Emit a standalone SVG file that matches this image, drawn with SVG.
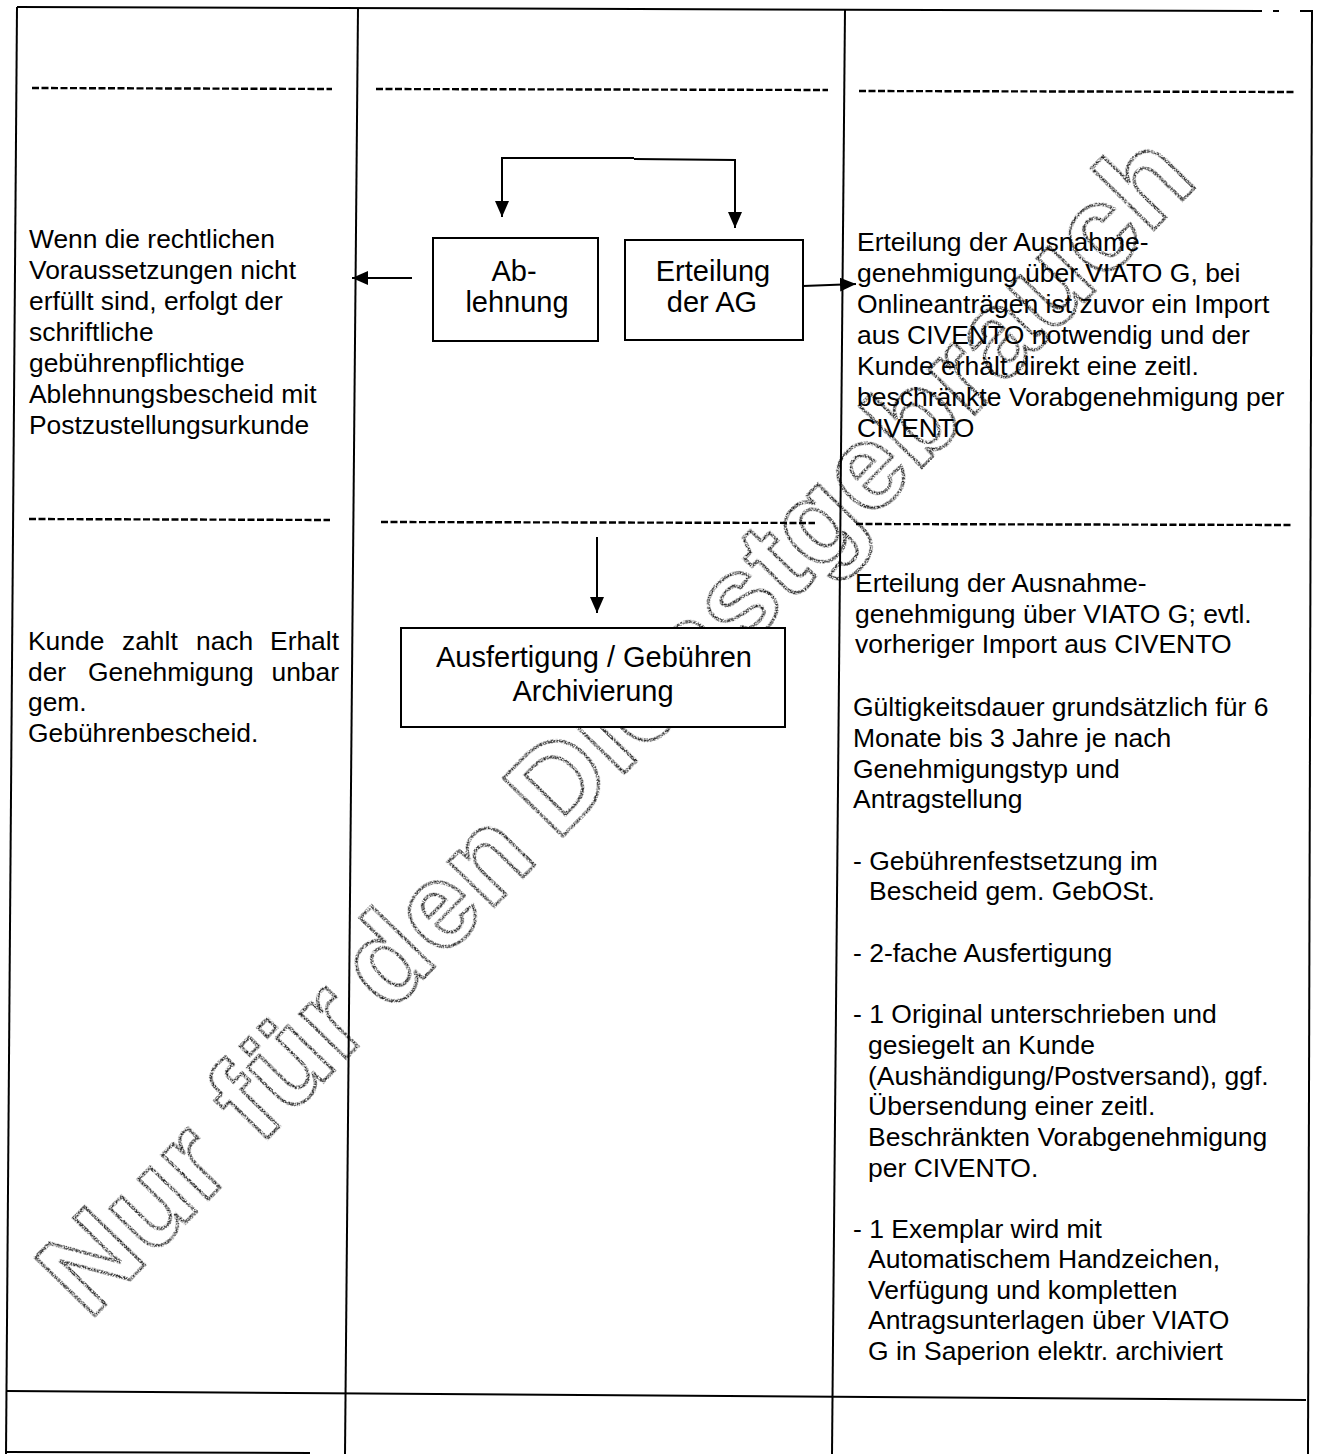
<svg xmlns="http://www.w3.org/2000/svg" width="1317" height="1454" viewBox="0 0 1317 1454">
<style>
.ln{stroke:#000;stroke-width:2;fill:none}
.dash{stroke:#000;stroke-width:2.4;stroke-dasharray:7 2.5;fill:none}
.box{fill:#fff;stroke:#000;stroke-width:2}
.con{stroke:#000;stroke-width:2;fill:none}
.t{font-family:"Liberation Sans",Arial,sans-serif;fill:#000}
.l{font-size:26.4px}
.r{font-size:26.5px}
.b{font-size:29px;text-anchor:middle}
.wm{font-family:"Liberation Sans",Arial,sans-serif;font-weight:bold;font-size:120px;letter-spacing:1px;fill:none;stroke:#222;stroke-width:3.2}
</style>
<defs>
<marker id="ah" markerUnits="userSpaceOnUse" markerWidth="18" markerHeight="16" refX="16" refY="7" orient="auto">
<path d="M0,0 L16,7 L0,14 Z" fill="#000"/>
</marker>
<filter id="speck" x="-5%" y="-20%" width="110%" height="140%">
<feTurbulence type="fractalNoise" baseFrequency="0.9" numOctaves="2" seed="7" result="noise"/>
<feColorMatrix in="noise" type="matrix" values="0 0 0 0 0 0 0 0 0 0 0 0 0 0 0 5 0 0 0 -1.9" result="mask"/>
<feComposite in="SourceGraphic" in2="mask" operator="in"/>
</filter>
</defs>
<rect width="1317" height="1454" fill="#fff"/>

<g id="watermark">
<text class="wm" x="0" y="0" dx="22 0 0 0 0 0 0 -12 0 0 0 -10" transform="translate(74,1337) rotate(-45.7)" filter="url(#speck)">Nur für den Dienstgebrauch</text>
</g>

<g id="table">
<path class="ln" d="M17,7 L1262,11"/>
<path class="ln" d="M1273,11 L1279,11"/>
<path class="ln" d="M1300,11 L1312,11"/>
<path class="ln" d="M17,7 L6,1454"/>
<path class="ln" d="M358,8 L345,1454"/>
<path class="ln" d="M845,9 L832,1454"/>
<path class="ln" d="M1312,10 L1308,1454"/>
<path class="ln" d="M7,1391 L1306,1400"/>
<path class="ln" d="M7,1452 L310,1453"/>
<path class="dash" d="M32,88 L332,89"/>
<path class="dash" d="M376,89 L828,90"/>
<path class="dash" d="M859,91 L1294,92"/>
<path class="dash" d="M29,519 L330,520"/>
<path class="dash" d="M381,522 L815,523"/>
<path class="dash" d="M856,524 L1292,525"/>
</g>

<g id="connectors">
<path class="con" d="M634,158 L502,158 L502,217" marker-end="url(#ah)"/>
<path class="con" d="M634,159 L735,160 L735,228" marker-end="url(#ah)"/>
<path class="con" d="M412,278 L352,278" marker-end="url(#ah)"/>
<path class="con" d="M803,286 L856,284" marker-end="url(#ah)"/>
<path class="con" d="M597,537 L597,613" marker-end="url(#ah)"/>
</g>

<g id="node-ablehnung">
<rect class="box" x="433" y="238" width="165" height="103"/>
<text class="t b" x="514" y="281">Ab-</text>
<text class="t b" x="517" y="312">lehnung</text>
</g>

<g id="node-erteilung">
<rect class="box" x="625" y="240" width="178" height="100"/>
<text class="t b" x="713" y="281">Erteilung</text>
<text class="t b" x="712" y="312">der AG</text>
</g>

<g id="node-ausfertigung">
<rect class="box" x="401" y="628" width="384" height="99"/>
<text class="t b" x="594" y="667">Ausfertigung / Gebühren</text>
<text class="t b" x="593" y="701">Archivierung</text>
</g>

<g id="text-ablehnung" class="t l">
<text x="29" y="248">Wenn die rechtlichen</text>
<text x="29" y="279">Voraussetzungen nicht</text>
<text x="29" y="310">erfüllt sind, erfolgt der</text>
<text x="29" y="341">schriftliche</text>
<text x="29" y="372">gebührenpflichtige</text>
<text x="29" y="403">Ablehnungsbescheid mit</text>
<text x="29" y="434">Postzustellungsurkunde</text>
</g>

<g id="text-erteilung" class="t r">
<text x="857" y="251">Erteilung der Ausnahme-</text>
<text x="857" y="282">genehmigung über VIATO G, bei</text>
<text x="857" y="313">Onlineanträgen ist zuvor ein Import</text>
<text x="857" y="344">aus CIVENTO notwendig und der</text>
<text x="857" y="375">Kunde erhält direkt eine zeitl.</text>
<text x="857" y="406">beschränkte Vorabgenehmigung per</text>
<text x="857" y="437">CIVENTO</text>
</g>

<g id="text-zahlung" class="t l">
<text y="650"><tspan x="28">Kunde</tspan><tspan x="122">zahlt</tspan><tspan x="196">nach</tspan><tspan x="339" text-anchor="end">Erhalt</tspan></text>
<text y="681"><tspan x="28">der</tspan><tspan x="88">Genehmigung</tspan><tspan x="339" text-anchor="end">unbar</tspan></text>
<text x="28" y="711">gem.</text>
<text x="28" y="742">Gebührenbescheid.</text>
</g>

<g id="text-ausfertigung" class="t r">
<text x="855" y="592">Erteilung der Ausnahme-</text>
<text x="855" y="623">genehmigung über VIATO G; evtl.</text>
<text x="855" y="653">vorheriger Import aus CIVENTO</text>
<text x="853" y="716">Gültigkeitsdauer grundsätzlich für 6</text>
<text x="853" y="747">Monate bis 3 Jahre je nach</text>
<text x="853" y="778">Genehmigungstyp und</text>
<text x="853" y="808">Antragstellung</text>
<text x="853" y="870">- Gebührenfestsetzung im</text>
<text x="869" y="900">Bescheid gem. GebOSt.</text>
<text x="853" y="962">- 2-fache Ausfertigung</text>
<text x="853" y="1023">- 1 Original unterschrieben und</text>
<text x="868" y="1054">gesiegelt an Kunde</text>
<text x="868" y="1085">(Aushändigung/Postversand), ggf.</text>
<text x="868" y="1115">Übersendung einer zeitl.</text>
<text x="868" y="1146">Beschränkten Vorabgenehmigung</text>
<text x="868" y="1177">per CIVENTO.</text>
<text x="853" y="1238">- 1 Exemplar wird mit</text>
<text x="868" y="1268">Automatischem Handzeichen,</text>
<text x="868" y="1299">Verfügung und kompletten</text>
<text x="868" y="1329">Antragsunterlagen über VIATO</text>
<text x="868" y="1360">G in Saperion elektr. archiviert</text>
</g>
</svg>
